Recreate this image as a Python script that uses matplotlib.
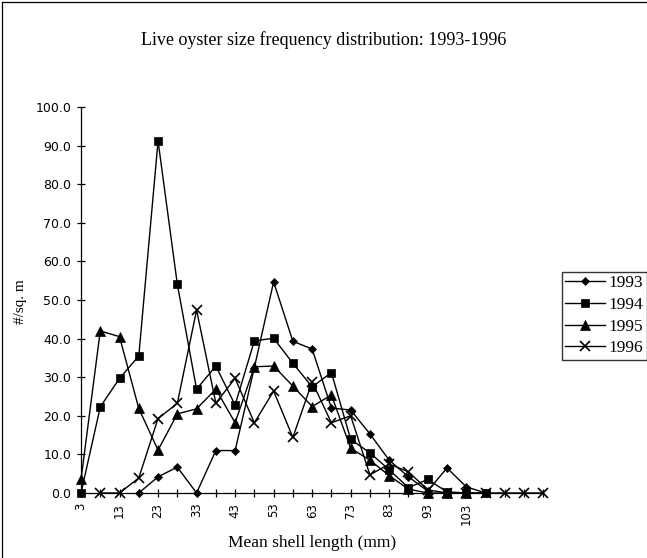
import numpy as np
import matplotlib.pyplot as plt
from matplotlib.lines import Line2D

nan = np.nan
#%% datos
tallas = [3, 8, 13, 18, 23, 28, 33, 38, 43, 48, 53, 58, 63, 68, 73, 78, 83, 88,
          93, 98, 103, 108, 113, 118, 123]
etiquetas = ['3', '', '13', '', '23', '', '33', '', '43', '', '53', '', '63', '',
             '73', '', '83', '', '93', '', '103', '', '', '', '']

y1993 = [nan, nan, nan, 0, 4.2, 6.7, 0, 11.0, 11.0, 32.5, 54.7, 39.3, 37.3, 22.0,
         21.5, 15.3, 8.5, 4.2, 0.5, 6.5, 1.6, 0, nan, nan, nan]
y1994 = [0, 22.3, 29.7, 35.5, 91.2, 54.1, 26.9, 32.9, 22.8, 39.4, 40.1, 33.6,
         27.5, 31.2, 13.9, 10.4, 6.0, 1.4, 3.5, 0.3, 0, 0, nan, nan, nan]
y1995 = [3.5, 42.0, 40.5, 21.9, 11.1, 20.5, 21.8, 26.9, 18.2, 32.7, 32.9, 27.7,
         22.4, 25.4, 11.6, 8.5, 4.5, 1.0, 0, 0, 0, nan, nan, nan, nan]
y1996 = [nan, 0, 0, 3.9, 19.3, 23.2, 47.4, 23.3, 29.7, 18.2, 26.4, 14.4, 28.8,
         18.2, 20.0, 4.7, 7.5, 5.5, 0.8, 0, 0, 0, 0, 0, 0]

series = [('1993', y1993, 'D', 4.5), ('1994', y1994, 's', 6.3),
          ('1995', y1995, '^', 6.5), ('1996', y1996, 'x', 7)]

#%% grafica
fig = plt.figure(figsize=(6.47, 5.58), dpi=100)
ax = fig.add_axes([0.1252, 0.1165, 0.7145, 0.6917])
pos = np.arange(len(tallas))

for nombre, vals, mk, ms in series:
    ax.plot(pos, vals, color='black', lw=1.0, marker=mk, ms=ms,
            mew=1.2 if mk == 'x' else 0.5, label=nombre, clip_on=False, zorder=3)

ax.set_xlim(0, len(tallas) - 1)
ax.set_ylim(0, 100)
ax.set_xticks(pos)
ax.set_xticklabels(etiquetas, rotation=90, fontsize=8.5, family='DejaVu Sans')
ax.set_yticks(np.arange(0, 101, 10))
ax.set_yticklabels(['%.1f' % v for v in np.arange(0, 101, 10)], fontsize=9,
                   family='DejaVu Sans')
ax.tick_params(axis='both', direction='inout', length=6, width=0.9, pad=4)
ax.spines['top'].set_visible(False)
ax.spines['right'].set_visible(False)
for s in ['left', 'bottom']:
    ax.spines[s].set_linewidth(0.9)

fig.text(0.5, 0.928, 'Live oyster size frequency distribution: 1993-1996',
         ha='center', va='center', family='Liberation Serif', fontsize=13)
fig.text(0.482, 0.027, 'Mean shell length (mm)', ha='center', va='center',
         family='Liberation Serif', fontsize=12.5)
fig.text(0.031, 0.459, '#/sq. m', ha='center', va='center', rotation=90,
         family='Liberation Serif', fontsize=11)

leg = fig.legend(loc='upper right', bbox_to_anchor=(0.9995, 0.513),
                 prop={'family': 'Liberation Serif', 'size': 12.5},
                 frameon=True, fancybox=False, edgecolor='black',
                 handlelength=2.3, handletextpad=0.2, borderpad=0.2,
                 labelspacing=0.32, borderaxespad=0.0)
leg.get_frame().set_linewidth(1.0)

# marco de la figura
fig.add_artist(Line2D([0.003, 1.0], [0.996, 0.996], color='black', lw=0.9))
fig.add_artist(Line2D([0.003, 0.003], [0.0, 0.996], color='black', lw=0.9))

fig.savefig('out.png', dpi=100)
